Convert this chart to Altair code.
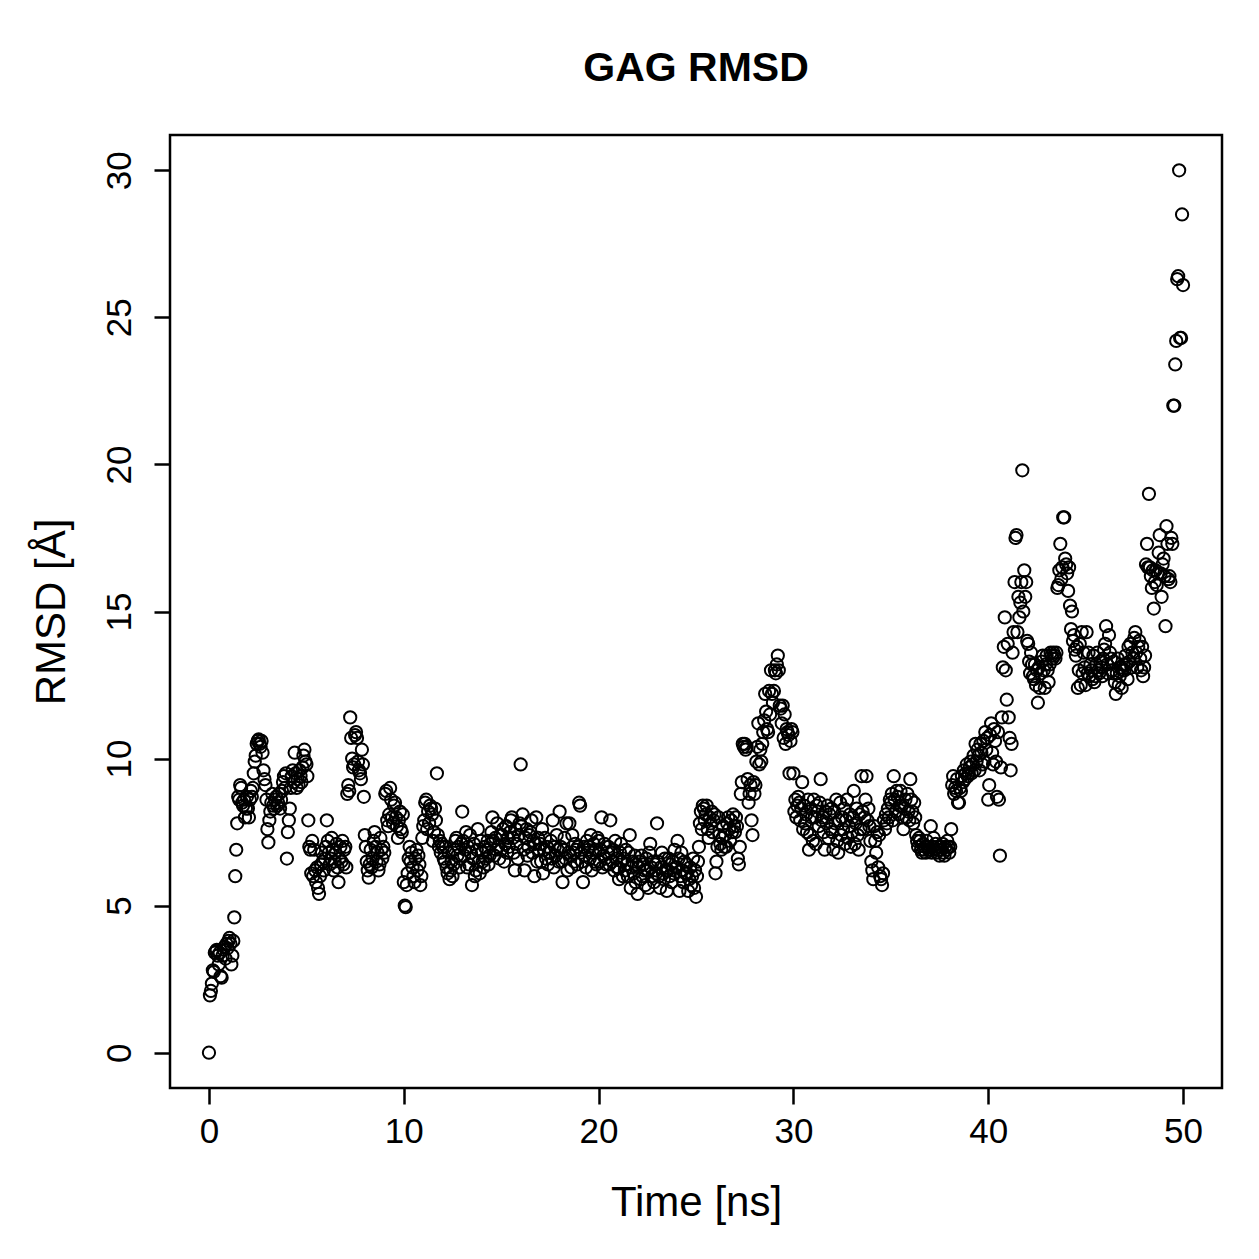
import altair as alt
import pandas as pd

# RMSD values, 20 samples per ns (0.05 ns step), rows = 0..49 ns, plus final point at 50 ns
r00 = [0.0, 1.95, 2.1, 2.35, 2.8, 2.75, 3.4, 3.45, 3.5, 3.3, 3.0, 3.4, 2.6, 2.55, 3.3, 3.5, 3.6, 3.2, 3.7, 3.55]
r01 = [3.8, 3.9, 3.7, 3.0, 3.3, 3.8, 4.6, 6.0, 6.9, 7.8, 8.7, 8.6, 9.1, 9.0, 8.5, 8.4, 8.6, 8.0, 8.3, 8.7]
r02 = [8.3, 8.0, 8.6, 8.9, 8.7, 9.0, 9.5, 9.9, 10.1, 10.5, 10.6, 10.65, 10.5, 10.4, 10.6, 10.2, 9.6, 9.3, 9.1, 8.6]
r03 = [7.6, 7.15, 7.9, 8.2, 8.5, 8.8, 8.4, 8.3, 8.6, 8.7, 8.4, 8.5, 8.8, 8.3, 8.6, 8.9, 9.2, 9.4, 9.0, 9.5]
r04 = [6.6, 7.5, 7.9, 8.3, 9.0, 9.4, 9.6, 9.2, 10.2, 9.5, 9.0, 9.3, 9.1, 9.6, 9.4, 9.2, 9.7, 10.1, 10.3, 9.9]
r05 = [9.8, 9.4, 7.9, 7.0, 6.9, 6.1, 7.2, 6.0, 6.9, 6.2, 5.8, 6.3, 5.6, 5.4, 6.0, 6.4, 6.8, 6.5, 6.2, 6.6]
r06 = [7.0, 7.9, 7.2, 6.8, 6.4, 6.6, 7.3, 6.9, 6.2, 6.5, 6.8, 7.1, 6.3, 5.8, 6.6, 7.0, 6.5, 7.2, 6.4, 6.9]
r07 = [7.0, 6.3, 8.8, 9.1, 8.9, 11.4, 10.7, 10.0, 9.7, 9.8, 10.8, 10.9, 10.7, 9.9, 9.6, 9.5, 9.3, 10.3, 9.8, 8.7]
r08 = [7.4, 7.0, 6.5, 6.2, 5.95, 6.4, 6.9, 6.3, 6.6, 7.2, 7.5, 7.0, 6.5, 6.8, 6.2, 6.4, 7.3, 6.9, 6.6, 7.0]
r09 = [6.8, 8.8, 8.9, 7.9, 7.7, 8.1, 9.0, 8.6, 8.0, 7.8, 8.4, 8.5, 8.0, 7.7, 7.3, 7.9, 8.2, 7.6, 7.5, 8.1]
r10 = [5.8, 5.0, 4.95, 5.7, 6.1, 6.6, 7.0, 6.5, 6.8, 6.3, 6.0, 5.8, 6.6, 6.9, 6.2, 6.7, 6.4, 5.7, 6.0, 7.3]
r11 = [7.7, 7.9, 8.5, 8.6, 7.6, 8.2, 7.8, 8.4, 8.3, 8.1, 7.2, 7.5, 8.3, 7.9, 9.5, 7.4, 7.0, 7.2, 6.8, 7.1]
r12 = [7.0, 6.6, 6.5, 7.0, 6.3, 6.1, 6.8, 5.9, 6.2, 6.5, 6.0, 6.4, 6.9, 7.2, 7.3, 6.7, 7.0, 6.3, 6.6, 7.1]
r13 = [8.2, 7.2, 6.7, 6.9, 7.5, 6.3, 7.0, 6.4, 7.4, 6.8, 5.7, 6.6, 7.1, 6.0, 6.2, 6.9, 7.6, 6.5, 6.1, 7.2]
r14 = [6.8, 6.5, 6.3, 7.0, 6.6, 6.9, 7.2, 6.4, 6.7, 7.1, 7.5, 8.0, 7.2, 6.7, 7.3, 6.9, 7.8, 7.0, 6.6, 7.4]
r15 = [6.9, 7.4, 7.6, 6.5, 7.1, 7.7, 6.8, 7.3, 7.0, 7.5, 7.9, 8.0, 7.3, 6.8, 6.2, 7.6, 7.1, 6.6, 7.4, 7.8]
r16 = [9.8, 7.7, 8.1, 6.9, 6.2, 7.3, 7.6, 6.7, 7.0, 7.4, 7.5, 7.9, 6.8, 7.2, 6.0, 7.1, 8.0, 6.5, 7.3, 6.9]
r17 = [7.1, 6.5, 7.6, 6.1, 6.9, 7.3, 6.6, 7.0, 6.4, 6.8, 6.8, 7.2, 6.6, 7.9, 6.3, 7.0, 6.7, 7.4, 6.9, 6.5]
r18 = [8.2, 7.0, 6.5, 5.8, 6.9, 7.3, 6.6, 7.8, 6.2, 6.8, 7.8, 6.7, 6.3, 7.4, 6.8, 6.5, 7.1, 6.9, 6.4, 7.0]
r19 = [8.5, 8.4, 6.8, 6.5, 5.8, 7.0, 6.7, 6.3, 7.2, 6.9, 7.0, 6.6, 7.4, 6.2, 6.8, 7.1, 6.5, 6.9, 6.4, 7.3]
r20 = [7.2, 6.5, 6.9, 8.0, 6.3, 6.7, 7.1, 6.6, 6.4, 6.8, 7.0, 6.4, 7.9, 6.8, 6.5, 6.9, 6.2, 7.2, 6.6, 6.3]
r21 = [6.3, 5.9, 6.8, 7.1, 6.5, 6.0, 6.6, 6.2, 6.9, 6.4, 6.0, 6.8, 7.4, 5.6, 6.3, 6.5, 6.1, 6.7, 5.8, 6.4]
r22 = [5.4, 6.3, 6.5, 5.9, 6.7, 6.0, 6.4, 6.2, 5.7, 6.6, 6.2, 5.6, 6.8, 7.1, 6.3, 6.0, 6.5, 5.8, 6.4, 6.1]
r23 = [7.8, 6.5, 6.0, 5.6, 6.3, 6.8, 6.1, 5.9, 6.6, 6.2, 5.5, 6.2, 6.6, 6.0, 6.4, 5.8, 6.5, 6.1, 6.9, 6.3]
r24 = [6.3, 7.2, 6.6, 5.5, 6.0, 6.8, 6.2, 5.8, 6.5, 6.1, 6.4, 6.1, 5.5, 5.9, 6.3, 5.7, 6.0, 6.6, 5.6, 6.2]
r25 = [5.3, 6.0, 6.5, 7.0, 7.8, 8.2, 7.6, 8.4, 8.3, 7.9, 8.1, 8.4, 7.6, 7.3, 8.0, 7.8, 8.2, 7.5, 7.9, 8.1]
r26 = [6.1, 6.5, 7.0, 8.0, 7.4, 7.1, 6.9, 7.3, 7.7, 7.0, 7.4, 7.0, 7.8, 8.0, 7.6, 7.2, 7.9, 7.5, 8.1, 7.7]
r27 = [7.5, 8.0, 7.7, 6.6, 6.4, 7.0, 8.8, 9.2, 10.5, 10.4, 10.5, 10.3, 10.4, 9.3, 8.5, 8.8, 9.1, 7.9, 7.4, 9.2]
r28 = [8.8, 9.1, 9.9, 10.4, 11.2, 9.8, 10.3, 9.9, 10.5, 10.9, 11.3, 12.2, 11.6, 11.0, 10.9, 12.3, 11.5, 13.0, 12.2, 11.9]
r29 = [12.3, 13.0, 12.9, 13.2, 13.5, 13.0, 11.8, 11.7, 11.2, 11.8, 10.7, 11.5, 10.5, 11.0, 10.9, 10.8, 9.5, 10.6, 11.0, 10.9]
r30 = [9.5, 8.2, 8.6, 8.0, 8.4, 8.7, 8.5, 7.9, 8.3, 9.2, 7.6, 8.4, 7.8, 8.1, 7.5, 8.6, 6.9, 7.4, 8.3, 8.0]
r31 = [7.2, 8.6, 8.0, 7.1, 8.4, 8.2, 7.7, 8.5, 9.3, 7.9, 8.0, 7.5, 6.9, 8.2, 7.8, 8.4, 7.3, 8.1, 7.6, 8.3]
r32 = [7.5, 6.9, 8.2, 7.8, 8.6, 7.2, 6.8, 7.9, 8.5, 7.4, 8.0, 7.6, 8.3, 7.1, 7.9, 8.6, 7.3, 7.7, 8.1, 7.0]
r33 = [7.5, 8.0, 8.9, 7.1, 7.8, 8.3, 7.4, 6.9, 8.1, 7.6, 9.4, 8.2, 7.6, 8.0, 8.6, 9.4, 7.9, 8.3, 7.7, 7.2]
r34 = [6.5, 6.2, 5.9, 7.7, 7.2, 6.8, 7.5, 6.3, 7.4, 6.0, 5.9, 5.7, 6.1, 7.9, 7.6, 8.1, 7.8, 8.3, 8.0, 8.6]
r35 = [8.5, 8.8, 7.9, 9.4, 8.6, 8.2, 8.9, 8.7, 8.1, 8.4, 8.9, 8.4, 8.0, 7.6, 8.3, 8.6, 8.0, 8.8, 8.2, 7.9]
r36 = [9.3, 8.6, 8.2, 7.8, 8.5, 8.0, 7.4, 7.2, 7.0, 7.3, 7.2, 6.9, 6.8, 7.1, 6.9, 7.0, 6.8, 7.2, 7.0, 6.9]
r37 = [6.9, 7.7, 6.8, 7.0, 7.3, 6.9, 7.1, 6.8, 7.0, 6.9, 6.7, 7.0, 6.9, 7.1, 6.8, 6.7, 7.0, 6.9, 7.2, 7.0]
r38 = [6.8, 7.0, 7.6, 9.1, 9.4, 8.8, 9.0, 8.9, 9.3, 8.5, 8.5, 9.0, 8.9, 9.4, 9.2, 9.6, 9.3, 9.5, 9.8, 9.4]
r39 = [9.5, 9.7, 9.9, 9.5, 9.8, 10.1, 9.6, 10.5, 9.9, 10.3, 10.1, 9.6, 10.5, 10.2, 9.8, 10.6, 9.9, 10.9, 10.3, 10.7]
r40 = [8.6, 9.1, 10.8, 11.2, 10.2, 9.8, 11.0, 10.6, 9.9, 8.7, 10.9, 8.6, 6.7, 9.7, 11.4, 13.1, 13.8, 14.8, 13.0, 12.0]
r41 = [13.9, 11.4, 10.7, 9.6, 10.5, 13.6, 14.3, 16.0, 17.5, 17.6, 14.3, 15.5, 14.8, 15.3, 16.0, 19.8, 15.0, 16.4, 15.5, 16.0]
r42 = [14.0, 13.9, 13.3, 12.9, 13.6, 13.2, 12.8, 12.7, 13.2, 12.5, 13.0, 11.9, 13.1, 12.4, 12.9, 13.3, 13.5, 13.0, 12.4, 13.2]
r43 = [13.5, 13.0, 12.6, 13.2, 13.6, 13.5, 13.4, 13.6, 13.5, 13.4, 13.6, 15.8, 15.9, 16.4, 17.3, 16.1, 16.5, 18.2, 18.2, 16.8]
r44 = [16.6, 16.3, 15.7, 16.5, 15.2, 14.4, 15.0, 14.0, 14.2, 13.7, 13.5, 13.8, 12.4, 13.0, 13.9, 12.5, 14.3, 12.9, 13.6, 13.1]
r45 = [12.5, 14.3, 12.9, 13.6, 12.8, 13.2, 13.0, 12.7, 13.5, 12.6, 12.8, 13.2, 13.6, 13.0, 12.9, 13.3, 13.1, 12.8, 13.4, 13.7]
r46 = [13.9, 14.5, 13.2, 12.9, 14.2, 13.6, 13.4, 13.0, 12.9, 13.3, 12.6, 12.2, 12.9, 13.4, 12.5, 12.8, 13.1, 12.4, 13.0, 13.2]
r47 = [13.0, 13.5, 13.2, 12.7, 13.8, 13.3, 13.9, 13.1, 13.6, 13.4, 14.1, 14.3, 13.6, 13.1, 13.8, 14.0, 13.4, 13.0, 13.8, 12.8]
r48 = [13.1, 13.5, 16.6, 17.3, 16.5, 19.0, 16.5, 16.2, 15.8, 16.4, 15.1, 16.0, 16.4, 15.9, 16.3, 17.0, 17.6, 16.3, 15.5, 16.6]
r49 = [16.8, 16.2, 14.5, 17.9, 17.3, 16.1, 16.2, 16.0, 17.5, 17.3, 22.0, 22.0, 23.4, 24.2, 26.3, 26.4, 30.0, 24.3, 24.3, 28.5]
r50 = [26.1]

rows = [r00, r01, r02, r03, r04, r05, r06, r07, r08, r09,
        r10, r11, r12, r13, r14, r15, r16, r17, r18, r19,
        r20, r21, r22, r23, r24, r25, r26, r27, r28, r29,
        r30, r31, r32, r33, r34, r35, r36, r37, r38, r39,
        r40, r41, r42, r43, r44, r45, r46, r47, r48, r49, r50]

rmsd = [v for row in rows for v in row]
time_step = 0.05
time_ns = [round(i * time_step, 2) for i in range(len(rmsd))]

x_ticks = [0, 10, 20, 30, 40, 50]
y_ticks = [0, 5, 10, 15, 20, 25, 30]

df = pd.DataFrame({"time": time_ns, "rmsd": rmsd})

W, H = 1052, 953
FONT = "Liberation Sans"

chart = alt.Chart(df).mark_point(
    shape="circle", filled=False, color="black", size=150, strokeWidth=2.0, opacity=1
).encode(
    x=alt.X("time:Q", scale=alt.Scale(domain=[-2, 52], nice=False, zero=False),
            axis=alt.Axis(values=x_ticks, title="Time [ns]", labelAngle=0,
                          labelPadding=10, labelBaseline="top",
                          titleX=W / 2, titleY=127, titleBaseline="alphabetic",
                          titleAlign="center")),
    y=alt.Y("rmsd:Q", scale=alt.Scale(domain=[-1.2, 31.2], nice=False, zero=False),
            axis=alt.Axis(values=y_ticks, title="RMSD [Å]", labelAngle=-90,
                          labelAlign="center", labelBaseline="alphabetic",
                          labelPadding=24,
                          titleX=-106, titleY=H / 2, titleAngle=-90,
                          titleBaseline="alphabetic", titleAlign="center")),
).properties(
    width=W, height=H,
    title=alt.TitleParams("GAG RMSD", font=FONT, fontSize=41, fontWeight="bold",
                          color="black", anchor="middle", offset=45),
    padding={"left": 170, "top": 135, "right": 37, "bottom": 171},
    autosize=alt.AutoSizeParams(type="none"),
    background="white",
).configure_view(
    stroke="black", strokeWidth=2.5, fill="white"
).configure_axis(
    grid=False, domain=False, ticks=True, tickColor="black", tickWidth=2.5,
    tickSize=16, labelFont=FONT, labelFontSize=35, labelColor="black",
    titleFont=FONT, titleFontSize=42, titleFontWeight="normal", titleColor="black",
    labelFlush=False, labelOverlap=False
)

chart.save("out.html", embed_options={"renderer": "svg", "actions": False})
